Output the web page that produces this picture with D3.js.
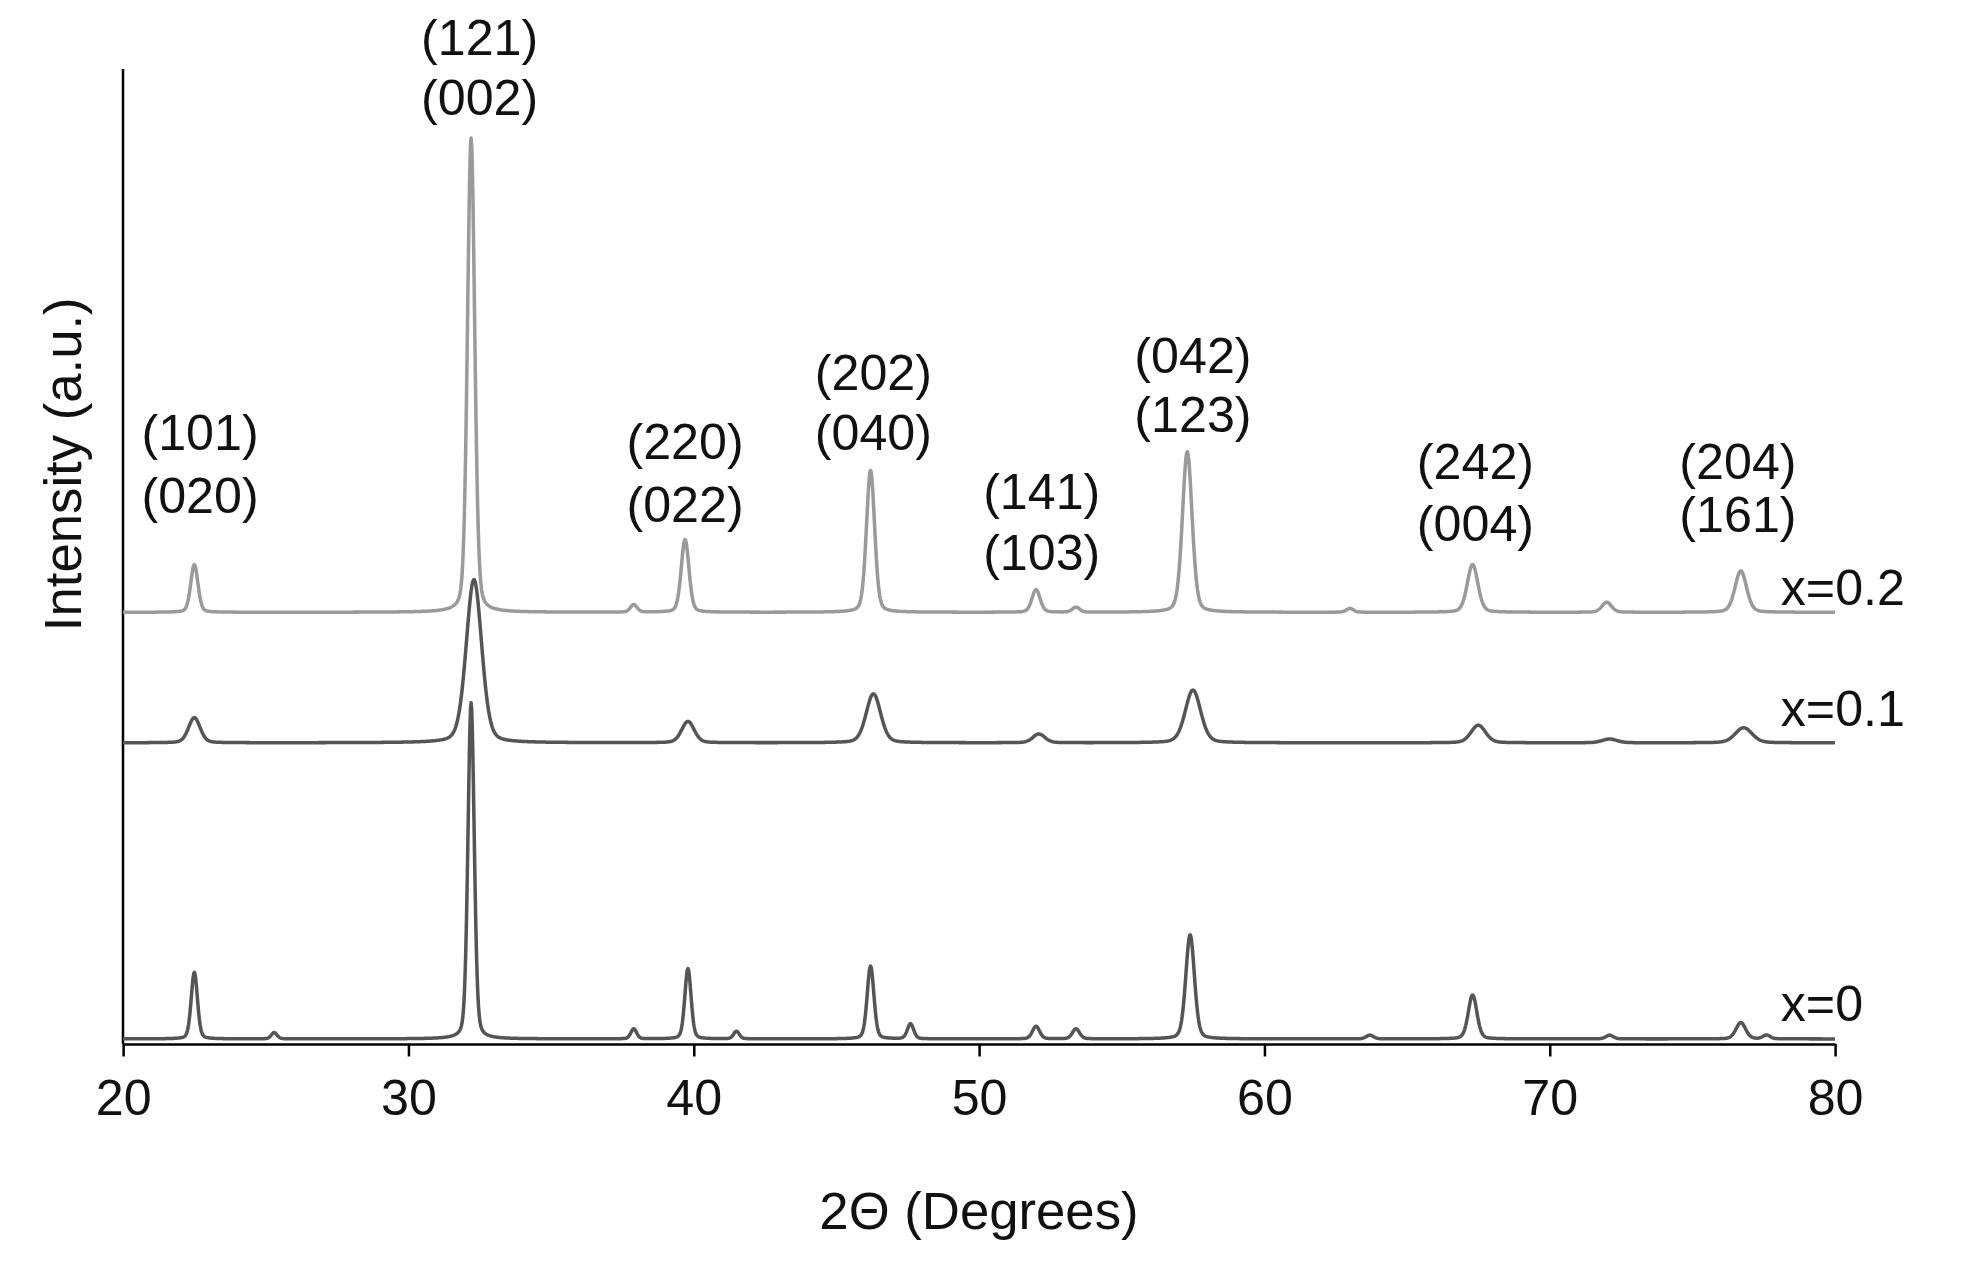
<!DOCTYPE html>
<html><head><meta charset="utf-8">
<script src="https://cdn.jsdelivr.net/npm/d3@7"></script>
<style>body{margin:0;background:#fff}text{font-family:"Liberation Sans",Arial,sans-serif}</style>
</head><body><div id="chart"></div>
<script>
// peaks: [2theta, height above baseline, half width]
const series = ["x=0", "x=0.1", "x=0.2"];
const baselines = [4, 240, 344];
const colors = ["#555", "#555", "#9a9a9a"];
const peaks0 = [[22.5,53,0.13],[25.3,5,0.12],[32.2,268,0.13],[37.9,8,0.12],[39.8,56,0.13],[41.5,6,0.12],
  [46.2,58,0.14],[47.6,12,0.13],[52,10,0.15],[53.4,8,0.15],[57.4,83,0.18],[63.7,3,0.15],[67.3,35,0.18],
  [72.1,3,0.15],[76.7,13,0.2],[77.6,3,0.15]];
const peaks1 = [[22.5,20,0.24],[32.3,130,0.32],[39.8,17,0.26],[46.3,39,0.3],[52.1,7,0.25],[57.5,42,0.32],
  [67.5,14,0.3],[72.1,3,0.3],[76.8,12,0.35]];
const peaks2 = [[22.5,38,0.15],[32.2,378,0.15],[37.9,6,0.14],[39.7,58,0.16],[46.2,113,0.17],[52,18,0.17],
  [53.4,4,0.15],[57.3,128,0.2],[63,3,0.15],[67.3,38,0.22],[72,8,0.2],[76.7,33,0.24]];
const allPeaks = [peaks0, peaks1, peaks2];
const xTicks = [20,30,40,50,60,70,80];
const hkl = [[22.7,"(101)","(020)",487,437],[32.5,"(121)","(002)",802,754],[39.7,"(220)","(022)",480,430],
  [46.3,"(202)","(040)",535,487],[52.2,"(141)","(103)",440,392],[57.5,"(042)","(123)",549,502],
  [67.4,"(242)","(004)",464,415],[76.6,"(204)","(161)",464,422]];
const seriesLabelY = [32, 267, 364];

const W = 1568, H = 1005;
const svg = d3.select("#chart").append("svg").attr("width",1968).attr("height",1261)
  .attr("viewBox",`0 0 ${W} ${H}`).attr("preserveAspectRatio","none");
const x = d3.scaleLinear().domain([20,80]).range([98,1462]);
const y = d3.scaleLinear().domain([0,777]).range([832,55]);

// y axis line
svg.append("line").attr("x1",98).attr("x2",98).attr("y1",55).attr("y2",832).attr("stroke","#000").attr("stroke-width",2);
const xAxis = svg.append("g").attr("transform","translate(0,832)")
  .call(d3.axisBottom(x).tickValues(xTicks).tickSize(10).tickSizeOuter(0));
xAxis.select(".domain").attr("stroke-width",2);
xAxis.selectAll(".tick line").attr("stroke-width",2);
xAxis.selectAll("text").attr("font-size",40).attr("dy","1.1em").attr("fill","#111");

const grid = d3.range(20, 80.001, 0.02);
const line = d3.line().x(d=>x(d[0])).y(d=>y(d[1]));
allPeaks.forEach((pk,i)=>{
  const pts = grid.map(t=>{
    let v = baselines[i];
    pk.forEach(([c,h,w])=>{ const u=(t-c)/w; v += h*(0.75*Math.exp(-0.693*u*u) + 0.25/(1+u*u)); });
    return [t,v];
  });
  svg.append("path").datum(pts).attr("d",line).attr("fill","none")
    .attr("stroke",colors[i]).attr("stroke-width",2.8).attr("stroke-linejoin","round");
  svg.append("text").attr("x",x(78.1)).attr("y",y(seriesLabelY[i])).attr("dy","0.35em")
    .attr("font-size",40).attr("fill","#111").text(series[i]);
});

hkl.forEach(([a,l1,l2,y1,y2])=>{
  [[l1,y1],[l2,y2]].forEach(([t,yy])=>svg.append("text").attr("x",x(a)).attr("y",y(yy)).attr("dy","0.35em")
    .attr("text-anchor","middle").attr("font-size",40).attr("fill","#111").text(t));
});

svg.append("text").attr("x",780).attr("y",965).attr("dy","0.35em").attr("text-anchor","middle")
  .attr("font-size",42).attr("fill","#111").text("2Θ (Degrees)");
svg.append("text").attr("transform","translate(50,370) rotate(-90)").attr("dy","0.35em")
  .attr("text-anchor","middle").attr("font-size",42).attr("fill","#111").text("Intensity (a.u.)");
</script></body></html>
